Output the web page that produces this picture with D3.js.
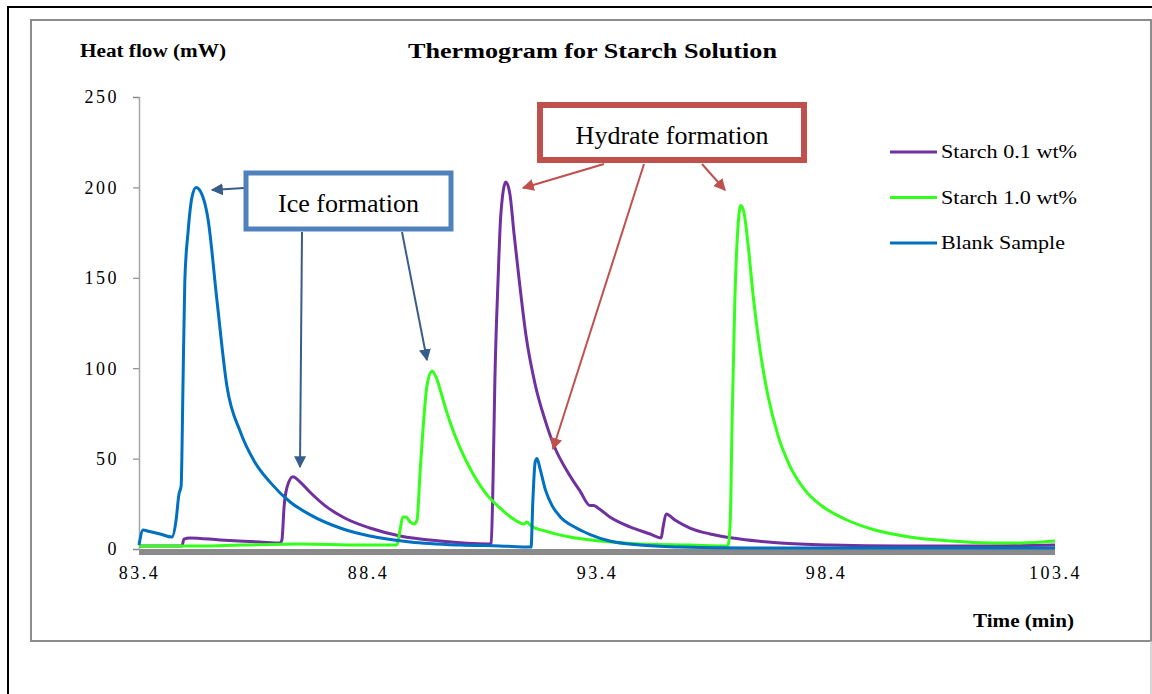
<!DOCTYPE html>
<html>
<head>
<meta charset="utf-8">
<script src="https://cdn.jsdelivr.net/npm/d3@7"></script>
<style>
  html, body { margin: 0; padding: 0; background: #fff; }
  svg { display: block; }
</style>
</head>
<body>
<svg id="chart" width="1152" height="694"></svg>
<script>
// Time axis (min) and heat flow (mW) readings for each sample
const blankTime = [83.40, 83.49, 83.58, 83.86, 84.12, 84.21, 84.27, 84.32, 84.36, 84.40, 84.47, 84.56, 84.645, 84.71, 84.91, 85.10, 85.32, 85.61, 85.93, 86.26, 86.70, 87.13, 87.79, 88.44, 89.32, 90.41, 91.28, 91.96, 92.00, 92.05, 92.09, 92.16, 92.27, 92.42, 92.59, 92.92, 93.25, 93.68, 94.34, 95.21, 96.74, 103.40];
const blankFlow = [2.2, 10.5, 10.0, 8.3, 6.6, 16, 30, 35, 90, 148, 175, 195, 200, 199, 182, 138, 90, 65, 48, 37, 26, 19, 11.6, 7.2, 3.9, 2.2, 1.7, 1.1, 27, 48, 50, 44, 33, 24, 18, 12, 8, 4.4, 2.2, 1.1, 0.5, 0.5];

const starch01Time = [83.40, 84.34, 84.38, 84.51, 85.17, 86.04, 86.48, 86.52, 86.57, 86.63, 86.76, 86.92, 87.13, 87.46, 87.90, 88.44, 89.10, 89.97, 91.04, 91.09, 91.13, 91.17, 91.24, 91.30, 91.41, 91.50, 91.59, 91.70, 91.85, 92.05, 92.27, 92.48, 92.75, 93.03, 93.25, 93.33, 93.42, 93.68, 94.12, 94.56, 94.80, 94.84, 94.91, 95.10, 95.43, 95.87, 96.52, 97.40, 98.49, 100.02, 101.76, 103.40];
const starch01Flow = [1.7, 1.7, 5.5, 6.1, 5.0, 3.9, 3.3, 5, 24, 34, 40, 37, 31.5, 24, 17, 11.6, 7.2, 4.4, 2.8, 3.3, 38, 93, 149, 185, 203, 196, 174, 149, 118, 91, 71, 56, 43, 32, 24, 24, 22.7, 17.7, 12.2, 8.3, 6.1, 11.6, 19.4, 16, 11.6, 8.3, 5.5, 3.3, 2.2, 1.7, 1.7, 2.2];

const starch10Time = [83.40, 84.73, 85.61, 86.92, 88.23, 89.03, 89.10, 89.16, 89.23, 89.32, 89.40, 89.47, 89.54, 89.60, 89.69, 89.80, 89.91, 90.04, 90.19, 90.41, 90.67, 90.95, 91.28, 91.61, 91.81, 91.87, 91.96, 92.26, 92.81, 93.47, 94.34, 95.43, 96.26, 96.31, 96.35, 96.41, 96.48, 96.54, 96.61, 96.70, 96.81, 96.96, 97.13, 97.35, 97.61, 97.94, 98.31, 98.81, 99.47, 100.23, 101.11, 101.98, 102.64, 103.40];
const starch10Flow = [1.7, 1.7, 2.2, 2.8, 2.2, 2.2, 10.5, 17.7, 17.7, 15, 13.8, 16, 43.7, 65.8, 90.7, 98.5, 93.5, 82.4, 70.2, 55.9, 42.6, 31.5, 22.7, 16, 13.8, 14.9, 12.7, 10, 6.6, 4.4, 2.8, 2.2, 1.7, 16, 71, 138, 179, 190, 186, 168, 140, 110, 85, 63, 46, 32.6, 23.8, 16.6, 10.5, 6.6, 4.4, 3.3, 3.3, 4.4];

const seriesNames = ["Starch 0.1 wt%", "Starch 1.0 wt%", "Blank Sample"];
const seriesColors = ["#7030A0", "#33FF1A", "#0070C0"];

const yTicks = [0, 50, 100, 150, 200, 250];
const xTicks = [83.4, 88.4, 93.4, 98.4, 103.4];

const FONT = '"Liberation Serif"';

const svg = d3.select("#chart");

// Frames around the chart
svg.append("path")
  .attr("d", "M8,700 L8,7 L1160,7")
  .attr("fill", "none").attr("stroke", "#000").attr("stroke-width", 2);
svg.append("rect")
  .attr("x", 31).attr("y", 20).attr("width", 1120).attr("height", 621)
  .attr("fill", "none").attr("stroke", "#8c8c8c").attr("stroke-width", 2);
svg.append("line")
  .attr("x1", 1151).attr("x2", 1151).attr("y1", 641).attr("y2", 694)
  .attr("stroke", "#c8c8c8").attr("stroke-width", 1.5);

const x = d3.scaleLinear().domain([83.4, 103.4]).range([139, 1055]);
const y = d3.scaleLinear().domain([0, 250]).range([549, 97]);

// Floor band under the plot
svg.append("rect")
  .attr("x", x(83.4)).attr("y", y(0))
  .attr("width", x(103.4) - x(83.4)).attr("height", 6)
  .attr("fill", "#8a8a8a");

// Y axis
const yAxis = svg.append("g")
  .attr("transform", `translate(${x(83.4)},0)`)
  .call(d3.axisLeft(y).tickValues(yTicks).tickSize(6).tickPadding(14).tickFormat(d3.format("d")));
yAxis.select(".domain").attr("stroke", "#a6a6a6").attr("stroke-width", 1.5);
yAxis.selectAll(".tick line").attr("stroke", "#8c8c8c").attr("stroke-width", 1.2);
yAxis.selectAll(".tick text")
  .style("font-family", FONT).style("font-size", "18px")
  .attr("letter-spacing", 2.5).attr("fill", "#000").attr("dy", "0.33em");

// X axis labels
const xAxis = svg.append("g")
  .attr("transform", `translate(0,${y(0)})`)
  .call(d3.axisBottom(x).tickValues(xTicks).tickSize(0).tickFormat(d3.format(".1f")));
xAxis.select(".domain").remove();
xAxis.selectAll(".tick text")
  .style("font-family", FONT).style("font-size", "18px")
  .attr("letter-spacing", 2.5).attr("fill", "#000")
  .attr("dy", null).attr("y", 30);

// Series lines
const line = d3.line()
  .x(d => x(d[0]))
  .y(d => y(d[1]))
  .curve(d3.curveMonotoneX);

const series = [
  d3.zip(starch01Time, starch01Flow),
  d3.zip(starch10Time, starch10Flow),
  d3.zip(blankTime, blankFlow)
];
// draw order: purple, green, blue on top
[0, 1, 2].forEach(i => {
  svg.append("path")
    .datum(series[i])
    .attr("d", line)
    .attr("fill", "none")
    .attr("stroke", seriesColors[i])
    .attr("stroke-width", 3)
    .attr("stroke-linejoin", "round");
});

function label(xp, yp, txt, size, bold, len) {
  const t = svg.append("text")
    .attr("x", xp).attr("y", yp)
    .style("font-family", FONT).style("font-size", size + "px")
    .style("font-weight", bold ? "bold" : "normal")
    .attr("fill", "#000")
    .text(txt);
  if (len) t.attr("textLength", len).attr("lengthAdjust", "spacingAndGlyphs");
  return t;
}

// Titles
label(408, 58, "Thermogram for Starch Solution", 21, true, 369);
label(80, 57, "Heat flow (mW)", 18, true, 146);
label(973, 627, "Time (min)", 18, true, 101);

// Legend
seriesNames.forEach((name, i) => {
  const ly = 152 + i * 45.5;
  svg.append("line")
    .attr("x1", 890).attr("x2", 937).attr("y1", ly).attr("y2", ly)
    .attr("stroke", seriesColors[i]).attr("stroke-width", 3);
  label(941, ly + 6, name, 18, false, i < 2 ? 136 : 124);
});

// Annotation boxes with arrows
const defs = svg.append("defs");
function marker(id, color) {
  defs.append("marker")
    .attr("id", id)
    .attr("viewBox", "0 0 10 10")
    .attr("refX", 9).attr("refY", 5)
    .attr("markerWidth", 6).attr("markerHeight", 6)
    .attr("markerUnits", "strokeWidth")
    .attr("orient", "auto")
    .append("path")
    .attr("d", "M0,0 L10,5 L0,10 Z")
    .attr("fill", color);
}
marker("arrowBlue", "#385D8A");
marker("arrowRed", "#C0504D");

const iceArrows = [
  [244, 188, 212, 190],
  [302, 232, 300, 467],
  [402, 232, 427, 360]
];
iceArrows.forEach(a => {
  svg.append("line")
    .attr("x1", a[0]).attr("y1", a[1]).attr("x2", a[2]).attr("y2", a[3])
    .attr("stroke", "#385D8A").attr("stroke-width", 2)
    .attr("marker-end", "url(#arrowBlue)");
});

const hydArrows = [
  [604, 164, 523, 188],
  [644, 164, 553, 449],
  [702, 164, 725, 190]
];
hydArrows.forEach(a => {
  svg.append("line")
    .attr("x1", a[0]).attr("y1", a[1]).attr("x2", a[2]).attr("y2", a[3])
    .attr("stroke", "#C0504D").attr("stroke-width", 2)
    .attr("marker-end", "url(#arrowRed)");
});

svg.append("rect")
  .attr("x", 246).attr("y", 173).attr("width", 205).attr("height", 56)
  .attr("fill", "#fff").attr("stroke", "#4F81BD").attr("stroke-width", 5);
label(348.5, 212, "Ice formation", 26, false).attr("text-anchor", "middle");

svg.append("rect")
  .attr("x", 540).attr("y", 105).attr("width", 264).attr("height", 55)
  .attr("fill", "#fff").attr("stroke", "#C0504D").attr("stroke-width", 6);
label(672, 144, "Hydrate formation", 26, false).attr("text-anchor", "middle");
</script>
</body>
</html>
